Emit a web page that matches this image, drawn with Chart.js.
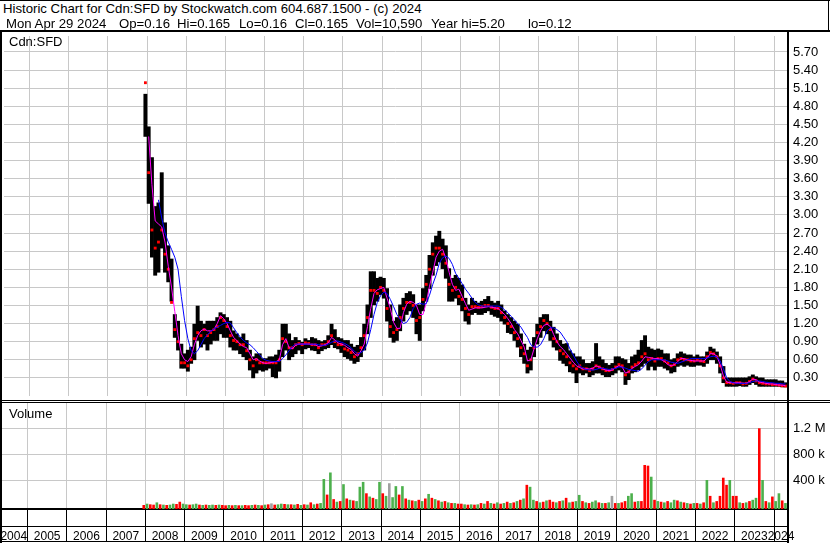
<!DOCTYPE html>
<html>
<head>
<meta charset="utf-8">
<script src="https://cdn.jsdelivr.net/npm/chart.js@4.4.1/dist/chart.umd.min.js"></script>
<style>
  body { margin: 0; background: #fff; }
  #wrap { position: relative; width: 830px; height: 543px; overflow: hidden; font-family: "Liberation Sans", Arial, sans-serif; color: #000; }
  #wrap canvas { position: absolute; left: 0; }
  .txt { position: absolute; white-space: pre; line-height: 15px; }
  .t2 { top: 16px; font-size: 13.2px; }
  .ln { position: absolute; background: #000; }
</style>
</head>
<body>
<div id="wrap">
  <canvas id="price" width="830" height="368" style="top:32px"></canvas>
  <canvas id="volume" width="830" height="140" style="top:403px"></canvas>

  <div class="txt" style="left:3px;top:1px;font-size:13.2px">Historic Chart for Cdn:SFD by Stockwatch.com 604.687.1500 - (c) 2024</div>
  <div class="txt t2" style="left:6px">Mon Apr 29 2024</div>
  <div class="txt t2" style="left:119px">Op=0.16</div>
  <div class="txt t2" style="left:177px">Hi=0.165</div>
  <div class="txt t2" style="left:239px">Lo=0.16</div>
  <div class="txt t2" style="left:295px">Cl=0.165</div>
  <div class="txt t2" style="left:356px">Vol=10,590</div>
  <div class="txt t2" style="left:431px">Year hi=5.20</div>
  <div class="txt t2" style="left:528px">lo=0.12</div>
  <div class="txt" style="left:9px;top:34px;font-size:13px">Cdn:SFD</div>
  <div class="txt" style="left:9px;top:406px;font-size:13px">Volume</div>

  <!-- frame -->
  <div class="ln" style="left:0;top:0;width:830px;height:1px"></div>
  <div class="ln" style="left:828px;top:0;width:1px;height:32px"></div>
  <div class="ln" style="left:0;top:30px;width:830px;height:2px"></div>
  <div class="ln" style="left:0;top:30px;width:2px;height:513px"></div>
  <div class="ln" style="left:787px;top:30px;width:2px;height:513px"></div>
  <div class="ln" style="left:0;top:400px;width:830px;height:1px"></div>
  <div class="ln" style="left:0;top:402px;width:830px;height:1px"></div>
  <div class="ln" style="left:0;top:526px;width:788px;height:1px"></div>
  <div class="ln" style="left:0;top:541px;width:788px;height:1px"></div>
</div>

<script>
// DATA - monthly bars, first bar = Dec 2007
const firstMonth = [2007, 12];
const years = [2004, 2005, 2006, 2007, 2008, 2009, 2010, 2011, 2012, 2013, 2014,
  2015, 2016, 2017, 2018, 2019, 2020, 2021, 2022, 2023, 2024];
const priceTicks = ['0.30', '0.60', '0.90', '1.20', '1.50', '1.80', '2.10', '2.40', '2.70', '3.00',
  '3.30', '3.60', '3.90', '4.20', '4.50', '4.80', '5.10', '5.40', '5.70'];
const volTickValues = [400000, 800000, 1200000];
const volTicks = ['400 k', '800 k', '1.2 M'];

const highs = [
  5.00,
  4.46, 3.95, 3.14, 3.20, 3.70, 2.87, 2.49, 2.27, 1.35, 1.24, 0.86, 0.70,
  0.76, 0.81, 1.19, 1.49, 1.24, 1.19, 1.24, 1.24, 1.24, 1.30, 1.38, 1.35,
  1.30, 1.24, 1.08, 1.03, 0.97, 1.03, 0.92, 0.76, 0.65, 0.70, 0.70, 0.62,
  0.62, 0.65, 0.65, 0.68, 0.76, 1.19, 1.19, 1.03, 0.92, 0.97, 0.92, 0.89,
  0.95, 0.92, 0.97, 0.95, 0.92, 0.90, 0.92, 1.00, 1.19, 1.10, 0.97, 0.95,
  0.92, 0.92, 0.86, 0.81, 0.84, 0.97, 1.19, 1.51, 2.06, 2.06, 1.95, 1.97,
  1.95, 1.78, 1.51, 1.24, 1.30, 1.51, 1.62, 1.70, 1.73, 1.68, 1.51, 1.51,
  1.78, 2.00, 2.33, 2.54, 2.65, 2.73, 2.60, 2.49, 2.11, 1.95, 2.00, 1.95,
  1.84, 1.62, 1.51, 1.62, 1.57, 1.54, 1.57, 1.60, 1.65, 1.57, 1.54, 1.57,
  1.51, 1.41, 1.35, 1.30, 1.24, 1.19, 1.03, 0.86, 0.76, 0.81, 0.97, 1.19,
  1.30, 1.35, 1.35, 1.24, 1.14, 1.03, 0.92, 0.86, 0.87, 0.75, 0.70, 0.65,
  0.65, 0.60, 0.54, 0.54, 0.57, 0.87, 0.65, 0.60, 0.54, 0.51, 0.54, 0.65,
  0.65, 0.62, 0.60, 0.54, 0.65, 0.68, 0.76, 0.92, 1.00, 0.81, 0.78, 0.76,
  0.78, 0.76, 0.70, 0.70, 0.60, 0.62, 0.70, 0.73, 0.70, 0.68, 0.68, 0.65,
  0.68, 0.65, 0.65, 0.73, 0.81, 0.78, 0.73, 0.65, 0.49, 0.30, 0.30, 0.30,
  0.30, 0.30, 0.30, 0.30, 0.32, 0.35, 0.32, 0.30, 0.30, 0.27, 0.27, 0.27,
  0.27, 0.25, 0.25, 0.22
];
const lows = [
  4.30,
  3.19, 2.30, 2.00, 2.05, 2.45, 2.05, 1.89, 1.57, 0.97, 0.76, 0.46, 0.46,
  0.41, 0.54, 0.60, 0.92, 0.81, 0.86, 0.76, 0.86, 0.92, 0.92, 1.03, 0.97,
  0.97, 0.81, 0.76, 0.76, 0.70, 0.65, 0.60, 0.43, 0.30, 0.38, 0.43, 0.41,
  0.43, 0.46, 0.32, 0.30, 0.41, 0.65, 0.76, 0.60, 0.65, 0.70, 0.76, 0.70,
  0.78, 0.80, 0.76, 0.75, 0.70, 0.75, 0.78, 0.80, 0.85, 0.80, 0.78, 0.72,
  0.65, 0.62, 0.59, 0.54, 0.57, 0.65, 0.76, 1.03, 1.30, 1.51, 1.57, 1.68,
  1.62, 1.24, 0.97, 0.89, 0.92, 1.08, 1.24, 1.35, 1.41, 1.30, 1.03, 0.92,
  1.41, 1.57, 1.78, 2.00, 2.16, 2.22, 2.11, 1.95, 1.57, 1.57, 1.62, 1.51,
  1.41, 1.24, 1.19, 1.35, 1.38, 1.35, 1.35, 1.38, 1.41, 1.35, 1.32, 1.30,
  1.24, 1.19, 1.05, 1.03, 0.92, 0.81, 0.65, 0.54, 0.38, 0.43, 0.65, 0.86,
  0.97, 1.08, 1.03, 0.92, 0.81, 0.76, 0.59, 0.54, 0.50, 0.40, 0.38, 0.22,
  0.38, 0.35, 0.38, 0.32, 0.35, 0.38, 0.38, 0.35, 0.32, 0.32, 0.35, 0.38,
  0.43, 0.40, 0.19, 0.27, 0.38, 0.40, 0.43, 0.49, 0.54, 0.43, 0.49, 0.43,
  0.49, 0.49, 0.46, 0.43, 0.38, 0.40, 0.49, 0.51, 0.49, 0.51, 0.49, 0.49,
  0.51, 0.51, 0.49, 0.54, 0.60, 0.60, 0.54, 0.38, 0.22, 0.16, 0.16, 0.16,
  0.16, 0.17, 0.16, 0.16, 0.19, 0.22, 0.19, 0.16, 0.16, 0.16, 0.16, 0.16,
  0.16, 0.16, 0.15, 0.15
];
const closes = [
  5.19,
  3.70, 2.75, 2.45, 2.55, 2.75, 2.35, 2.10, 1.55, 1.10, 0.90, 0.55, 0.55,
  0.50, 0.60, 0.95, 1.05, 1.00, 1.10, 1.00, 1.05, 1.10, 1.15, 1.30, 1.25,
  1.15, 1.00, 0.92, 0.90, 0.85, 0.85, 0.75, 0.60, 0.50, 0.60, 0.55, 0.55,
  0.55, 0.55, 0.55, 0.55, 0.60, 0.95, 0.90, 0.80, 0.80, 0.85, 0.87, 0.85,
  0.88, 0.87, 0.85, 0.85, 0.80, 0.85, 0.85, 0.90, 1.00, 0.90, 0.85, 0.85,
  0.78, 0.76, 0.72, 0.65, 0.70, 0.80, 1.00, 1.30, 1.75, 1.75, 1.70, 1.80,
  1.75, 1.45, 1.15, 1.05, 1.10, 1.30, 1.45, 1.55, 1.55, 1.50, 1.25, 1.30,
  1.60, 1.85, 2.10, 2.35, 2.45, 2.45, 2.35, 2.20, 1.85, 1.75, 1.80, 1.65,
  1.60, 1.45, 1.35, 1.48, 1.48, 1.47, 1.48, 1.50, 1.50, 1.47, 1.45, 1.45,
  1.38, 1.30, 1.20, 1.15, 1.05, 0.95, 0.80, 0.70, 0.50, 0.60, 0.80, 1.05,
  1.15, 1.25, 1.20, 1.10, 0.95, 0.90, 0.75, 0.70, 0.65, 0.55, 0.50, 0.45,
  0.50, 0.45, 0.45, 0.42, 0.45, 0.50, 0.48, 0.45, 0.42, 0.42, 0.44, 0.48,
  0.52, 0.50, 0.35, 0.40, 0.48, 0.52, 0.55, 0.65, 0.70, 0.60, 0.62, 0.58,
  0.62, 0.62, 0.58, 0.55, 0.50, 0.52, 0.60, 0.62, 0.60, 0.60, 0.58, 0.58,
  0.60, 0.58, 0.57, 0.65, 0.72, 0.70, 0.65, 0.50, 0.30, 0.22, 0.22, 0.21,
  0.22, 0.22, 0.20, 0.21, 0.24, 0.28, 0.25, 0.22, 0.21, 0.20, 0.20, 0.19,
  0.19, 0.18, 0.17, 0.165
];
// short moving average (magenta)
const maShort = [
  null,
  4.30, 3.50, 2.90, 2.85, 2.80, 2.55, 2.15, 1.80, 1.40, 1.00, 0.70, 0.60,
  0.57, 0.65, 0.85, 1.00, 1.08, 1.11, 1.08, 1.08, 1.10, 1.20, 1.33, 1.28,
  1.20, 1.08, 0.97, 0.92, 0.86, 0.82, 0.80, 0.70, 0.60, 0.62, 0.58, 0.55,
  0.54, 0.55, 0.56, 0.57, 0.60, 0.85, 0.95, 0.80, 0.78, 0.84, 0.86, 0.86,
  0.86, 0.86, 0.85, 0.85, 0.82, 0.83, 0.85, 0.88, 0.97, 0.93, 0.88, 0.86,
  0.84, 0.80, 0.77, 0.70, 0.66, 0.75, 0.86, 1.15, 1.45, 1.70, 1.76, 1.78,
  1.80, 1.62, 1.45, 1.22, 1.12, 1.12, 1.38, 1.52, 1.57, 1.55, 1.50, 1.35,
  1.35, 1.55, 1.82, 2.05, 2.30, 2.40, 2.43, 2.28, 2.05, 1.85, 1.75, 1.77,
  1.65, 1.53, 1.42, 1.44, 1.46, 1.46, 1.46, 1.47, 1.48, 1.47, 1.46, 1.45,
  1.40, 1.35, 1.28, 1.20, 1.10, 1.03, 0.92, 0.81, 0.58, 0.60, 0.78, 0.95,
  1.08, 1.17, 1.19, 1.15, 1.02, 0.90, 0.82, 0.77, 0.70, 0.63, 0.56, 0.50,
  0.47, 0.45, 0.45, 0.45, 0.46, 0.50, 0.48, 0.45, 0.43, 0.42, 0.43, 0.47,
  0.50, 0.48, 0.38, 0.40, 0.46, 0.49, 0.52, 0.58, 0.65, 0.64, 0.63, 0.62,
  0.62, 0.60, 0.57, 0.52, 0.50, 0.52, 0.57, 0.62, 0.62, 0.60, 0.59, 0.58,
  0.58, 0.58, 0.58, 0.63, 0.70, 0.70, 0.66, 0.52, 0.33, 0.23, 0.22, 0.22,
  0.22, 0.22, 0.21, 0.21, 0.24, 0.28, 0.27, 0.23, 0.22, 0.21, 0.20, 0.20,
  0.19, 0.18, 0.18, 0.17
];
// long moving average (blue)
const maLong = [
  null,
  null, null, null, 3.25, 2.95, 2.70, 2.55, 2.43, 2.30, 2.10, 1.65, 1.25,
  0.95, 0.75, 0.70, 0.75, 0.85, 0.95, 1.02, 1.07, 1.11, 1.14, 1.17, 1.20,
  1.22, 1.21, 1.13, 1.05, 0.98, 0.92, 0.88, 0.85, 0.80, 0.74, 0.68, 0.62,
  0.59, 0.58, 0.57, 0.57, 0.57, 0.62, 0.68, 0.75, 0.82, 0.86, 0.86, 0.86,
  0.86, 0.86, 0.86, 0.86, 0.85, 0.84, 0.84, 0.86, 0.89, 0.91, 0.91, 0.89,
  0.87, 0.84, 0.80, 0.74, 0.70, 0.72, 0.76, 0.88, 1.10, 1.35, 1.55, 1.66,
  1.72, 1.70, 1.60, 1.48, 1.35, 1.27, 1.20, 1.22, 1.30, 1.45, 1.52, 1.54,
  1.52, 1.53, 1.67, 1.85, 2.00, 2.20, 2.29, 2.32, 2.28, 2.18, 2.03, 1.95,
  1.86, 1.77, 1.70, 1.62, 1.55, 1.51, 1.49, 1.49, 1.49, 1.49, 1.49, 1.49,
  1.47, 1.43, 1.38, 1.32, 1.26, 1.20, 1.14, 1.05, 0.97, 0.85, 0.81, 0.81,
  0.85, 0.95, 1.08, 1.13, 1.13, 1.10, 1.06, 0.98, 0.90, 0.78, 0.68, 0.58,
  0.50, 0.46, 0.44, 0.43, 0.43, 0.44, 0.46, 0.46, 0.45, 0.44, 0.45, 0.46,
  0.48, 0.48, 0.46, 0.44, 0.43, 0.42, 0.41, 0.45, 0.51, 0.57, 0.60, 0.60,
  0.60, 0.60, 0.60, 0.58, 0.56, 0.55, 0.54, 0.56, 0.58, 0.60, 0.62, 0.62,
  0.62, 0.62, 0.62, 0.63, 0.65, 0.66, 0.65, 0.58, 0.45, 0.30, 0.24, 0.22,
  0.21, 0.21, 0.21, 0.21, 0.22, 0.24, 0.25, 0.25, 0.24, 0.23, 0.22, 0.22,
  0.21, 0.21, 0.20, 0.20
];
// volume in thousands, and side of the day: g = up, r = down, n = unchanged
const volumeK = [
  20,
  40, 30, 25, 60, 30, 25, 20, 25, 40, 35, 70, 40,
  30, 25, 30, 40, 25, 20, 25, 20, 25, 20, 25, 20,
  15, 20, 15, 20, 15, 15, 20, 15, 20, 25, 20, 15,
  25, 30, 45, 25, 30, 40, 35, 30, 30, 25, 35, 20,
  30, 25, 60, 30, 40, 50, 420, 180, 520, 110, 70, 80,
  340, 120, 100, 90, 80, 300, 375, 200, 150, 130, 110, 375,
  200, 160, 355, 140, 310, 180, 310, 120, 100, 90, 80, 100,
  80, 120, 190, 130, 110, 90, 70, 80, 60, 50, 50, 40,
  40, 30, 25, 30, 25, 30, 50, 40, 80, 50, 40, 60,
  40, 50, 70, 50, 60, 80, 100, 120, 330, 300, 100, 80,
  60, 70, 90, 100, 70, 60, 80, 90, 130, 60, 70, 80,
  175, 80, 60, 50, 70, 90, 60, 50, 50, 60, 160, 50,
  50, 60, 80, 160, 200, 70, 80, 80, 635, 625, 455, 100,
  80, 70, 60, 80, 60, 100, 90, 70, 60, 50, 40, 50,
  50, 40, 60, 405, 160, 60, 80, 160, 440, 330, 405, 160,
  160, 60, 50, 60, 80, 100, 130, 1200, 405, 80, 60, 150,
  80, 200, 90, 50
];
const volSide = [
  'r',
  'g', 'r', 'r', 'g', 'r', 'g', 'r', 'g', 'g', 'r', 'r', 'g',
  'g', 'r', 'g', 'g', 'r', 'g', 'r', 'g', 'g', 'r', 'g', 'r',
  'r', 'g', 'r', 'g', 'r', 'g', 'r', 'r', 'g', 'r', 'g', 'r',
  'g', 'r', 'n', 'r', 'g', 'g', 'r', 'g', 'r', 'g', 'r', 'g',
  'r', 'g', 'r', 'g', 'r', 'g', 'g', 'r', 'g', 'r', 'g', 'r',
  'g', 'r', 'g', 'r', 'g', 'g', 'g', 'r', 'g', 'r', 'g', 'g',
  'r', 'g', 'n', 'g', 'g', 'r', 'g', 'r', 'g', 'r', 'g', 'r',
  'g', 'r', 'g', 'r', 'g', 'r', 'g', 'r', 'g', 'r', 'g', 'r',
  'r', 'g', 'r', 'g', 'r', 'g', 'r', 'g', 'r', 'g', 'r', 'g',
  'r', 'g', 'r', 'g', 'r', 'g', 'r', 'g', 'r', 'g', 'g', 'r',
  'g', 'r', 'g', 'r', 'r', 'g', 'r', 'g', 'r', 'g', 'r', 'g',
  'g', 'r', 'g', 'r', 'g', 'g', 'r', 'g', 'r', 'g', 'n', 'r',
  'g', 'r', 'r', 'g', 'g', 'r', 'g', 'r', 'r', 'r', 'g', 'r',
  'g', 'r', 'g', 'r', 'g', 'g', 'r', 'g', 'r', 'g', 'r', 'g',
  'r', 'g', 'r', 'g', 'r', 'g', 'r', 'r', 'r', 'r', 'g', 'r',
  'r', 'g', 'r', 'g', 'r', 'g', 'g', 'r', 'g', 'r', 'g', 'r',
  'g', 'g', 'r', 'g'
];

// x position (decimal year) of each monthly bar
const monthT = highs.map((_, i) => firstMonth[0] + (firstMonth[1] - 1 + i + 0.5) / 12);
const pts = arr => arr.map((v, i) => ({ x: monthT[i], y: v }));

const X_MIN = 2004.35, X_MAX = 2024.356;
const GRID = '#c8c8c8';
const FONT = { family: '"Liberation Sans", Arial, sans-serif', size: 13 };
const sideColor = { g: '#4cb04c', r: '#ff0000', n: '#a0a0a0' };
const yearTicks = s => { s.ticks = years.slice(1).map(y => ({ value: y })); };
const noPad = s => { s.paddingTop = 0; s.paddingBottom = 0; s.paddingLeft = 0; s.paddingRight = 0; };

// PRICE PANEL
new Chart(document.getElementById('price'), {
  type: 'bar',
  data: {
    datasets: [
      { type: 'line', data: pts(maLong), borderColor: '#0000ff', borderWidth: 1, pointRadius: 0, tension: 0, order: 0 },
      { type: 'line', data: pts(maShort), borderColor: '#ff00ff', borderWidth: 1, pointRadius: 0, tension: 0, order: 1 },
      { type: 'line', data: pts(closes), showLine: false, pointStyle: 'rect', pointRadius: 2,
        pointBackgroundColor: '#ff0000', pointBorderWidth: 0, order: 2 },
      { type: 'bar', data: highs.map((h, i) => ({ x: monthT[i], y: [lows[i], h] })),
        backgroundColor: '#000', barPercentage: 1, categoryPercentage: 1, order: 3 }
    ]
  },
  options: {
    responsive: false, animation: false, devicePixelRatio: 1,
    layout: { padding: { left: 2, top: 0, right: 0, bottom: 0 } },
    plugins: { legend: { display: false }, tooltip: { enabled: false } },
    scales: {
      x: {
        type: 'linear', min: X_MIN, max: X_MAX, offset: false, afterBuildTicks: yearTicks,
        ticks: { display: false }, grid: { color: GRID, drawTicks: false, offset: false }, border: { display: false },
        afterFit: s => { s.height = 0; noPad(s); }
      },
      y: {
        position: 'right', min: 0, max: 5.964,
        afterBuildTicks: s => { s.ticks = priceTicks.map(t => ({ value: parseFloat(t) })); },
        ticks: { callback: (v, i) => priceTicks[i], color: '#000', font: FONT, padding: 5 },
        grid: { color: GRID, drawTicks: false }, border: { color: '#000', width: 2 },
        afterFit: s => { s.width = 42; noPad(s); }
      }
    }
  }
});

// year labels under the volume panel
const yearRow = {
  id: 'yearRow',
  afterDraw(chart) {
    const { ctx, chartArea, scales: { x } } = chart;
    ctx.save();
    ctx.fillStyle = '#000';
    ctx.font = '12px "Liberation Sans", Arial, sans-serif';
    ctx.textAlign = 'center';
    ctx.textBaseline = 'alphabetic';
    years.forEach(y => {
      const l = Math.max(x.getPixelForValue(y), 0);
      const r = Math.min(x.getPixelForValue(y + 1), chartArea.right);
      ctx.fillText(String(y), (l + r) / 2, chartArea.bottom + 31);
    });
    ctx.restore();
  }
};

// VOLUME PANEL
const VOL_MIN = -41500, VOL_MAX = 1589000;
new Chart(document.getElementById('volume'), {
  type: 'bar',
  data: {
    datasets: [{
      data: volumeK.map((v, i) => ({ x: monthT[i], y: [VOL_MIN, v * 1000] })),
      backgroundColor: volSide.map(s => sideColor[s]),
      barPercentage: 0.8, categoryPercentage: 1
    }]
  },
  options: {
    responsive: false, animation: false, devicePixelRatio: 1,
    layout: { padding: { left: 2, top: 0, right: 0, bottom: 0 } },
    plugins: { legend: { display: false }, tooltip: { enabled: false } },
    scales: {
      x: {
        type: 'linear', min: X_MIN, max: X_MAX, offset: false, afterBuildTicks: yearTicks,
        ticks: { display: false },
        grid: { color: GRID, tickColor: '#000', tickLength: 32, offset: false },
        border: { color: '#000', width: 2 },
        afterFit: s => { s.height = 34; noPad(s); }
      },
      y: {
        position: 'right', min: VOL_MIN, max: VOL_MAX,
        afterBuildTicks: s => { s.ticks = volTickValues.map(v => ({ value: v })); },
        ticks: { callback: (v, i) => volTicks[i], color: '#000', font: FONT, padding: 5 },
        grid: { color: GRID, drawTicks: false }, border: { color: '#000', width: 2 },
        afterFit: s => { s.width = 42; noPad(s); }
      }
    }
  },
  plugins: [yearRow]
});
</script>
</body>
</html>
